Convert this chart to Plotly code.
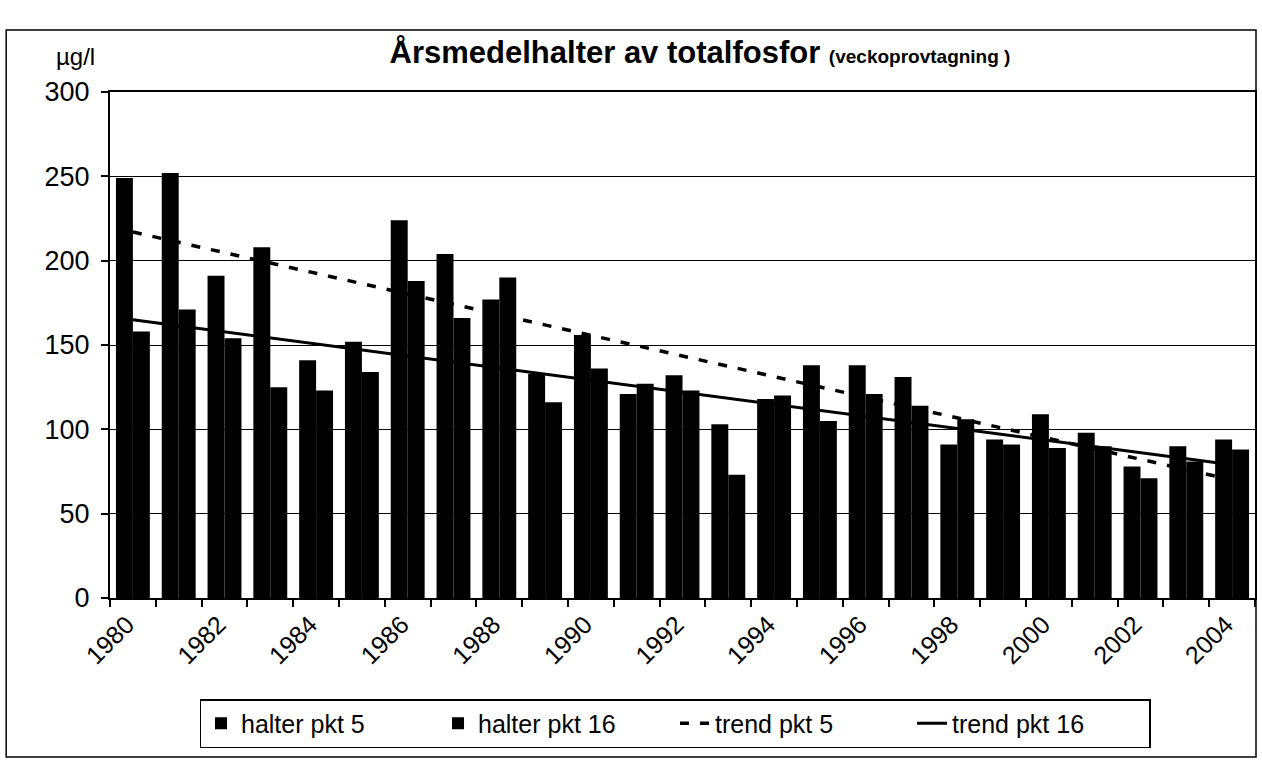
import plotly.graph_objects as go

years = list(range(1980, 2005))
halter_pkt5 = [249, 252, 191, 208, 141, 152, 224, 204, 177, 133, 156, 121, 132,
               103, 118, 138, 138, 131, 91, 94, 109, 98, 78, 90, 94]
halter_pkt16 = [158, 171, 154, 125, 123, 134, 188, 166, 190, 116, 136, 127, 123,
                73, 120, 105, 121, 114, 106, 91, 89, 90, 71, 81, 88]
trend_years = [1980, 2004]
trend_pkt5 = [217, 70]
trend_pkt16 = [165, 79]
tick_years = years[::2]
y_ticks = [0, 50, 100, 150, 200, 250, 300]

FONT = "Liberation Sans, Arial, Helvetica, sans-serif"

fig = go.Figure()
fig.add_trace(go.Bar(x=years, y=halter_pkt5, name="halter pkt 5",
                     marker=dict(color="black", line=dict(width=0))))
fig.add_trace(go.Bar(x=years, y=halter_pkt16, name="halter pkt 16",
                     marker=dict(color="black", line=dict(width=0))))
fig.add_trace(go.Scatter(x=trend_years, y=trend_pkt5, name="trend pkt 5", mode="lines",
                         line=dict(color="black", width=3.5, dash="9px,11px")))
fig.add_trace(go.Scatter(x=trend_years, y=trend_pkt16, name="trend pkt 16", mode="lines",
                         line=dict(color="black", width=3)))

L, R, T, B = 110, 5, 92, 163
W, H = 1262, 761
pw, ph = W - L - R, H - T - B

def px_x(x):
    return (x - L) / pw

def px_y(y):
    return (H - B - y) / ph

fig.update_layout(
    width=W, height=H, autosize=False,
    margin=dict(l=L, r=R, t=T, b=B, pad=0),
    paper_bgcolor="white", plot_bgcolor="white",
    barmode="group", bargap=0.26, bargroupgap=0,
    font=dict(family=FONT, color="black"),
    title=dict(
        text="<b>Årsmedelhalter av totalfosfor</b> <b><span style='font-size:19px'>(veckoprovtagning )</span></b>",
        x=700 / W, xanchor="center", xref="container",
        y=1 - 52 / H, yanchor="middle", yref="container",
        font=dict(size=31, family=FONT, color="black"),
    ),
    xaxis=dict(
        range=[1979.5, 2004.5],
        tickmode="array", tickvals=tick_years, ticktext=[str(y) for y in tick_years],
        tickangle=-45, ticks="", tickfont=dict(size=25, family=FONT),
        ticklabelshift=-6,
        showline=True, linecolor="black", linewidth=2, mirror=True,
        showgrid=False, zeroline=False,
        minor=dict(tickvals=[y - 0.5 for y in years] + [years[-1] + 0.5],
                   ticks="outside", ticklen=7, tickwidth=1.5, tickcolor="black",
                   showgrid=False),
    ),
    yaxis=dict(
        range=[0, 300], tickmode="array", tickvals=y_ticks,
        ticks="outside", ticklen=7, tickwidth=1.5, tickcolor="black",
        tickfont=dict(size=27, family=FONT), ticklabelstandoff=6,
        showline=True, linecolor="black", linewidth=2, mirror=True,
        showgrid=True, gridcolor="black", gridwidth=1, zeroline=False,
    ),
    legend=dict(
        orientation="h", x=px_x(676), xanchor="center", xref="paper",
        y=px_y(699), yanchor="top", yref="paper",
        bordercolor="black", borderwidth=1.5, bgcolor="white",
        font=dict(size=25, family=FONT), traceorder="normal",
        itemwidth=30, entrywidthmode="pixels", entrywidth=192,
    ),
    annotations=[dict(
        text="µg/l", xref="paper", yref="paper", x=px_x(75), y=px_y(57),
        xanchor="center", yanchor="middle", showarrow=False,
        font=dict(size=24, family=FONT, color="black"),
    )],
    shapes=[dict(
        type="rect", xref="paper", yref="paper",
        x0=px_x(6), x1=px_x(1258), y0=px_y(757), y1=px_y(30),
        line=dict(color="black", width=1.5), fillcolor="rgba(0,0,0,0)", layer="above",
    )],
)

fig.write_html("out.html", config={"displayModeBar": False},
               post_script="document.body.style.margin='0';")
